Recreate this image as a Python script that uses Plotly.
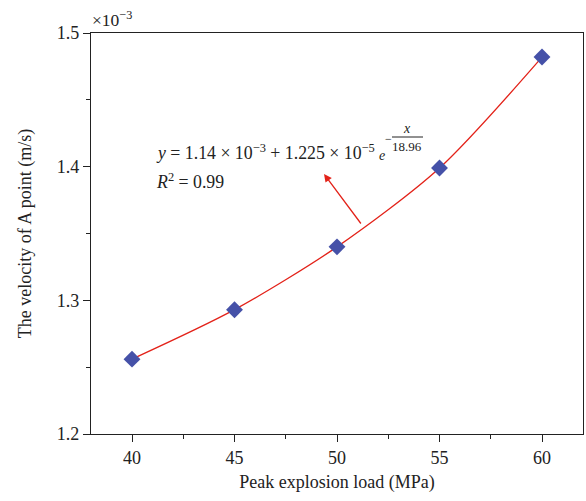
import plotly.graph_objects as go

# Data (velocity in units of 1e-3 m/s)
load_mpa = [40, 45, 50, 55, 60]
velocity = [1.256, 1.293, 1.340, 1.399, 1.482]

x_ticks = [40, 45, 50, 55, 60]
y_ticks = [1.2, 1.3, 1.4, 1.5]

FONT = "Liberation Serif"
RED = "#E32219"
BLUE = "#4551A8"
TXT = "#222222"
AX = "#222222"

W, H = 586, 501
L, R, T, B = 91, 3, 33, 67
PW, PH = W - L - R, H - T - B


def px(x):
    return (x - L) / PW


def py(y):
    return (H - B - y) / PH


fig = go.Figure()

fig.add_trace(go.Scatter(
    x=load_mpa, y=velocity, mode="lines",
    line=dict(color=RED, width=1.3, shape="spline", smoothing=0.8),
    showlegend=False, hoverinfo="skip"))

fig.add_trace(go.Scatter(
    x=load_mpa, y=velocity, mode="markers",
    marker=dict(symbol="diamond", size=13, color=BLUE),
    showlegend=False))

axis_common = dict(
    showline=True, linecolor=AX, linewidth=1.3, mirror=True,
    ticks="outside", ticklen=7, tickwidth=1.3, tickcolor=AX,
    showgrid=False, zeroline=False, automargin=False,
    tickfont=dict(family=FONT, size=18, color=TXT),
)

fig.update_xaxes(
    range=[38, 62], tickvals=x_ticks,
    minor=dict(ticks="outside", ticklen=4, tickwidth=1.3, tickcolor=AX, dtick=2.5, showgrid=False),
    title=dict(text="Peak explosion load (MPa)", font=dict(family=FONT, size=18, color=TXT), standoff=8),
    **axis_common)
fig.update_yaxes(
    range=[1.2, 1.5], tickvals=y_ticks, tickformat=".1f",
    minor=dict(ticks="outside", ticklen=4, tickwidth=1.3, tickcolor=AX, dtick=0.05, showgrid=False),
    title=dict(text="The velocity of A point (m/s)", font=dict(family=FONT, size=18, color=TXT), standoff=20),
    **axis_common)

ann_font = dict(family=FONT, size=17.8, color=TXT)
annotations = [
    dict(x=px(90), y=py(19), text="×10<sup>−3</sup>", xanchor="left", yanchor="middle",
         font=dict(family=FONT, size=17.5, color=TXT)),
    dict(x=px(154), y=py(152), text="<i>y</i> = 1.14 × 10<sup>−3</sup> + 1.225 × 10<sup>−5</sup>",
         xanchor="left", yanchor="middle", font=ann_font),
    dict(x=px(377), y=py(155), text="<i>e</i>", xanchor="left", yanchor="middle",
         font=dict(family=FONT, size=14, color=TXT)),
    dict(x=px(388), y=py(139), text="−", xanchor="center", yanchor="middle",
         font=dict(family=FONT, size=12, color=TXT)),
    dict(x=px(407), y=py(128), text="<i>x</i>", xanchor="center", yanchor="middle",
         font=dict(family=FONT, size=14, color=TXT)),
    dict(x=px(407), y=py(147), text="18.96", xanchor="center", yanchor="middle",
         font=dict(family=FONT, size=13, color=TXT)),
    dict(x=px(154), y=py(181), text="<i>R</i><sup>2</sup> = 0.99", xanchor="left", yanchor="middle",
         font=ann_font),
    dict(x=px(324), y=py(174), text="", showarrow=True, ax=38, ay=51,
         arrowcolor=RED, arrowwidth=1.3, arrowhead=2, arrowsize=1.2),
]
for a in annotations:
    a.setdefault("showarrow", False)
    a["xref"] = "paper"
    a["yref"] = "paper"

shapes = [
    dict(type="line", xref="paper", yref="paper", x0=px(392), x1=px(423), y0=py(137), y1=py(137),
         line=dict(color=TXT, width=1)),
]

fig.update_layout(
    width=W, height=H,
    margin=dict(l=L, r=R, t=T, b=B),
    paper_bgcolor="white", plot_bgcolor="white",
    font=dict(family=FONT, color=TXT),
    annotations=annotations, shapes=shapes,
)

fig.write_html("out.html", config={"displayModeBar": False},
               post_script="document.body.style.margin='0';document.body.style.overflow='hidden';")
